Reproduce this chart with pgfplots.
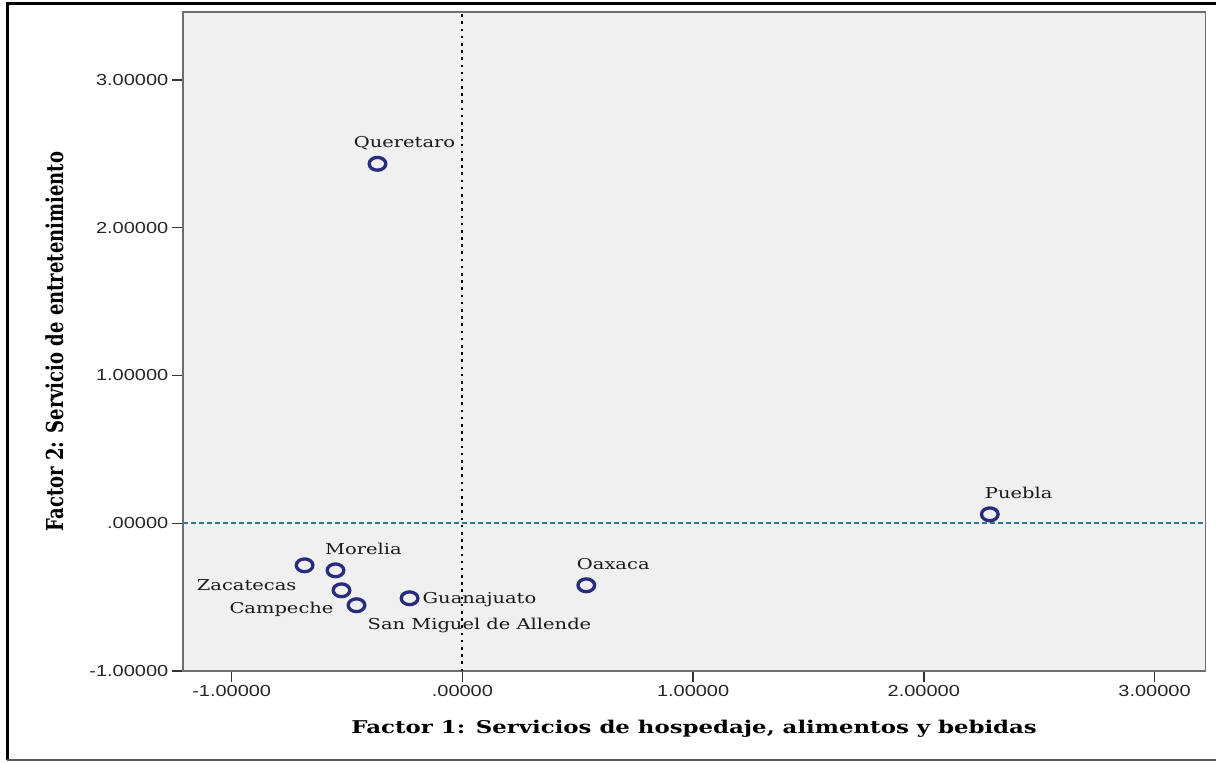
\documentclass[border=0pt]{standalone}
\usepackage{graphicx}
\usepackage{fontspec}
\usepackage{pgfplots}
\pgfplotsset{compat=1.18}
\setmainfont{DejaVu Serif}
\newfontfamily\tickfont[FakeStretch=1.25]{Liberation Sans}
\newfontfamily\labfont[FakeStretch=1.3]{DejaVu Serif}
\newfontfamily\titlefont[FakeStretch=1.3]{DejaVu Serif}
\newfontfamily\ytitlefont{DejaVu Serif}
\definecolor{bgc}{RGB}{240,240,240}
\definecolor{mk}{RGB}{40,44,124}
\definecolor{refb}{RGB}{50,115,150}
\definecolor{frm}{RGB}{110,110,110}
\begin{document}
\begin{tikzpicture}[x=1bp,y=1bp]
\begin{axis}[
  at={(0,0)}, anchor=south west,
  scale only axis, width=1024bp, height=660bp,
  xmin=-1.212, xmax=3.221, ymin=-1.0, ymax=3.459,
  axis background/.style={fill=bgc},
  axis line style={frm, line width=1.6bp},
  /pgf/number format/assume math mode=true,
  xtick={-1,0,1,2,3},
  xticklabels={{\tickfont -1.00000},{\tickfont .00000},{\tickfont 1.00000},{\tickfont 2.00000},{\tickfont 3.00000}},
  ytick={-1,0,1,2,3},
  yticklabels={{\tickfont -1.00000},{\tickfont .00000},{\tickfont 1.00000},{\tickfont 2.00000},{\tickfont 3.00000}},
  xtick pos=lower, ytick pos=left,
  tick align=outside,
  major tick length=11bp,
  tick style={black!80, line width=1.4bp},
  ticklabel style={font=\fontsize{16bp}{19bp}\tickfont, text=black!85},
  xlabel={\fontsize{17.6bp}{22bp}\titlefont\bfseries Factor 1: Servicios de hospedaje, alimentos y bebidas},
  ylabel={\scalebox{1}[1.3]{\fontsize{18bp}{22bp}\ytitlefont\bfseries Factor 2: Servicio de entretenimiento}},
  xlabel style={at={(axis description cs:0.5,-0.0879)}, anchor=center},
  ylabel style={at={(axis description cs:-0.125,0.5)}, anchor=center},
  clip=false,
]
\addplot[black, line width=1.8bp, dash pattern=on 2.6bp off 4.6bp] coordinates {(0,-1) (0,3.459)};
\addplot[refb, line width=1.8bp, dash pattern=on 5bp off 3bp] coordinates {(-1.212,0) (3.221,0)};
\addplot[only marks, mark=o, mark size=6.4bp, mark options={draw=mk, line width=3.3bp, xscale=1.3}] coordinates {
  (-0.368,2.432)
  (2.286,0.061)
  (0.537,-0.419)
  (-0.229,-0.507)
  (-0.684,-0.284)
  (-0.550,-0.318)
  (-0.524,-0.453)
  (-0.459,-0.554)
};
\begin{scope}[every node/.style={font=\fontsize{15bp}{18bp}\labfont, text=black!90, inner sep=0pt}]
\node at (axis cs:-0.251,2.574) {Queretaro};
\node at (axis cs:2.411,0.209) {Puebla};
\node at (axis cs:0.654,-0.277) {Oaxaca};
\node at (axis cs:-0.429,-0.176) {Morelia};
\node at (axis cs:-0.935,-0.419) {Zacatecas};
\node at (axis cs:-0.784,-0.581) {Campeche};
\node at (axis cs:0.074,-0.514) {Guanajuato};
\node at (axis cs:0.074,-0.689) {San Miguel de Allende};
\end{scope}
\end{axis}
\draw[black, line width=3bp] (-176,668) -- (1034,668);
\draw[black, line width=3bp] (-175,669.5) -- (-175,-89);
\draw[black!65, line width=2bp] (-176,-89) -- (1034,-89);
\useasboundingbox (-183,-91) rectangle (1034,672);
\end{tikzpicture}
\end{document}
